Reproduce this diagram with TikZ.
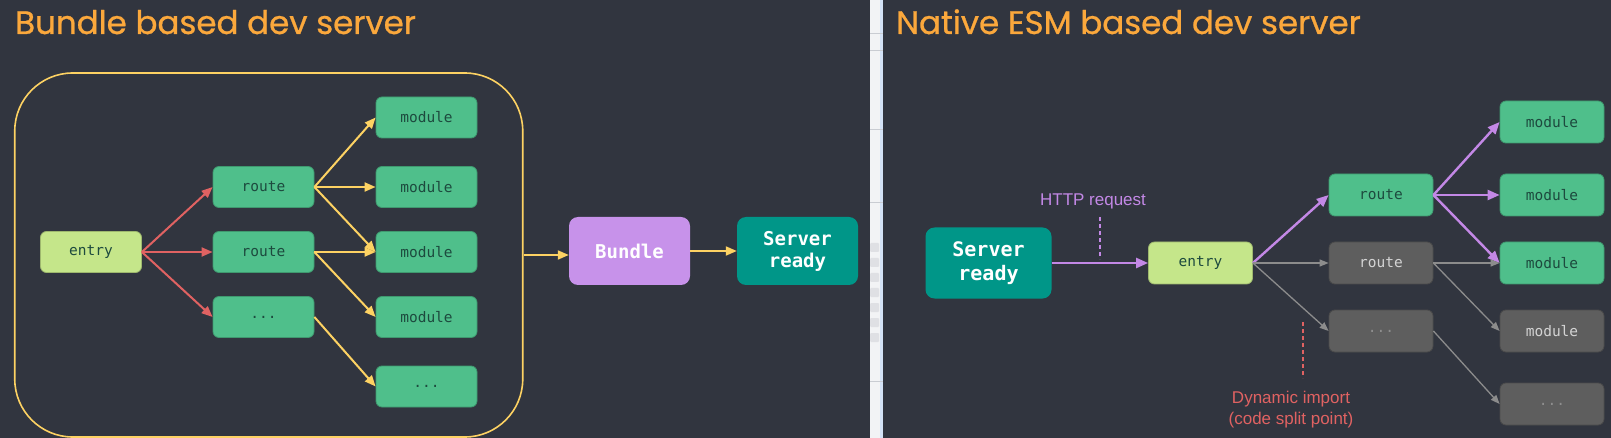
\documentclass[tikz,border=0pt]{standalone}
\usepackage{fontspec}
\setmainfont{Liberation Sans}
\setmonofont{DejaVu Sans Mono}
\newfontfamily\headfont[FakeBold=0.8]{Poppins}
\usepackage{tikz}
\usetikzlibrary{arrows.meta}

\definecolor{bgdark}{HTML}{31353F}
\definecolor{headorange}{HTML}{FBA83C}
\definecolor{boxgreen}{HTML}{4FBF8B}
\definecolor{greentext}{HTML}{1D4A3E}
\definecolor{entrylime}{HTML}{C5E68A}
\definecolor{boxgray}{HTML}{5E5E5E}
\definecolor{graytext}{HTML}{D4D4D4}
\definecolor{dimtext}{HTML}{8E8E8E}
\definecolor{arrowred}{HTML}{E06262}
\definecolor{arrowyellow}{HTML}{FDD263}
\definecolor{bundlepurple}{HTML}{C792EA}
\definecolor{arrowpurple}{HTML}{C388E6}
\definecolor{serverteal}{HTML}{009688}
\definecolor{arrowgray}{HTML}{8C8C8C}
\definecolor{stripwhite}{HTML}{F2F3F5}
\definecolor{stripblue}{HTML}{D3E2F6}
\definecolor{stripline}{HTML}{C9CCD2}

\begin{document}
\begin{tikzpicture}[x=1pt,y=-1pt,
  modbox/.style={rounded corners=6pt, minimum width=101pt, minimum height=41pt,
    inner sep=0pt, line width=0.8pt, font=\ttfamily\fontsize{14.5}{16}\selectfont},
  greenbox/.style={modbox, fill=boxgreen, draw=boxgreen!80!black, text=greentext},
  entrybox/.style={modbox, fill=entrylime, draw=entrylime!80!black, text=greentext},
  graybox/.style={modbox, fill=boxgray, draw=boxgray!80!black, text=graytext},
  bigstep/.style={rounded corners=9pt, inner sep=0pt, align=center, text=white,
    font=\ttfamily\bfseries\fontsize{19}{22}\selectfont},
  heading/.style={anchor=base west, inner sep=0pt, text=headorange,
    font=\headfont\fontsize{32.5}{36}\selectfont},
  redarrow/.style={draw=arrowred, line width=2pt, -{Triangle[length=11pt,width=9pt]}},
  yellowarrow/.style={draw=arrowyellow, line width=2pt, -{Triangle[length=11pt,width=9pt]}},
  purplearrow/.style={draw=arrowpurple, line width=2.4pt, -{Triangle[length=12pt,width=10pt]}},
  grayarrow/.style={draw=arrowgray, line width=1.3pt, -{Triangle[length=9pt,width=7pt]}},
  note/.style={inner sep=0pt, align=center, font=\fontsize{17}{21}\selectfont}
]
  \useasboundingbox (0,0) rectangle (1611,438);
  \fill[bgdark] (0,0) rectangle (870,438);
  \fill[bgdark] (883,0) rectangle (1611,438);
  \fill[stripwhite] (870,0) rectangle (880,438);
  \fill[stripblue] (880,0) rectangle (883,438);
  \draw[stripline] (870,33) --(883,33);
  \draw[stripline] (870,50) --(883,50);
  \draw[stripline] (870,129) --(883,129);
  \draw[stripline] (870,202) --(883,202);
  \draw[stripline] (870,381) --(883,381);
  \fill[stripline!60, rounded corners=1pt] (870,243) rectangle (879,252);
  \fill[stripline!60, rounded corners=1pt] (870,258) rectangle (879,267);
  \fill[stripline!60, rounded corners=1pt] (870,273) rectangle (879,282);
  \fill[stripline!60, rounded corners=1pt] (870,288) rectangle (879,297);
  \fill[stripline!60, rounded corners=1pt] (870,303) rectangle (879,312);
  \fill[stripline!60, rounded corners=1pt] (870,318) rectangle (879,327);
  \fill[stripline!60, rounded corners=1pt] (870,333) rectangle (879,342);

  % bundle based
  \path (15,34) node[heading] (bundletitle) {Bundle based dev server};
  \path (268.75,255) node[draw=arrowyellow, line width=1.6pt, rounded corners=58pt,
    minimum width=508pt, minimum height=364pt] (bundlebox) {};

  \path (91,252) node[entrybox] (entryl) {entry};
  \path (263.5,187) node[greenbox] (routela) {route};
  \path (263.5,252) node[greenbox] (routelb) {route};
  \path (263.5,317) node[greenbox] (routelc) {...};
  \path (426.5,117.5) node[greenbox] (modla) {module};
  \path (426.5,187) node[greenbox] (modlb) {module};
  \path (426.5,252) node[greenbox] (modlc) {module};
  \path (426.5,317) node[greenbox] (modld) {module};
  \path (426.5,386.5) node[greenbox] (modle) {...};

  \draw[redarrow] (entryl.east) --(routela.west);
  \draw[redarrow] (entryl.east) --(routelb.west);
  \draw[redarrow] (entryl.east) --(routelc.west);
  \draw[yellowarrow] (routela.east) --(modla.west);
  \draw[yellowarrow] (routela.east) --(modlb.west);
  \draw[yellowarrow] (routela.east) --(modlc.west);
  \draw[yellowarrow] (routelb.east) --(modlc.west);
  \draw[yellowarrow] (routelb.east) --(modld.west);
  \draw[yellowarrow] (routelc.east) --(modle.west);

  \path (629.5,251) node[bigstep, fill=bundlepurple, minimum width=121pt,
    minimum height=68pt] (bundle) {Bundle};
  \path (797.5,251) node[bigstep, fill=serverteal, minimum width=121pt,
    minimum height=68pt] (serverl) {Server\\ready};
  \draw[yellowarrow] (bundlebox.east) --(bundle.west |- bundlebox.east);
  \draw[yellowarrow] (bundle.east) --(serverl.west);

  % native esm based
  \path (896,34) node[heading] (esmtitle) {Native ESM based dev server};

  \path (988.5,263) node[bigstep, fill=serverteal, minimum width=126pt,
    minimum height=71pt, font=\ttfamily\bfseries\fontsize{20}{24}\selectfont] (serverr) {Server\\ready};
  \path (1200.5,263) node[entrybox, minimum width=104pt, minimum height=42pt] (entryr) {entry};
  \path (1381,195) node[greenbox, minimum width=104pt, minimum height=42pt] (routera) {route};
  \path (1381,263) node[graybox, minimum width=104pt, minimum height=42pt] (routerb) {route};
  \path (1381,331) node[graybox, minimum width=104pt, minimum height=42pt, text=dimtext] (routerc) {...};
  \path (1552,122) node[greenbox, minimum width=104pt, minimum height=42pt] (modra) {module};
  \path (1552,195) node[greenbox, minimum width=104pt, minimum height=42pt] (modrb) {module};
  \path (1552,263) node[greenbox, minimum width=104pt, minimum height=42pt] (modrc) {module};
  \path (1552,331) node[graybox, minimum width=104pt, minimum height=42pt] (modrd) {module};
  \path (1552,404) node[graybox, minimum width=104pt, minimum height=42pt, text=dimtext] (modre) {...};

  \draw[purplearrow] (serverr.east) --(entryr.west);
  \draw[purplearrow] (entryr.east) --(routera.west);
  \draw[grayarrow] (entryr.east) --(routerb.west);
  \draw[grayarrow] (entryr.east) --(routerc.west);
  \draw[purplearrow] (routera.east) --(modra.west);
  \draw[purplearrow] (routera.east) --(modrb.west);
  \draw[purplearrow] (routera.east) --(modrc.west);
  \draw[grayarrow] (routerb.east) --(modrc.west);
  \draw[grayarrow] (routerb.east) --(modrd.west);
  \draw[grayarrow] (routerc.east) --(modre.west);

  \path (1093,201) node[note, text=arrowpurple] (http) {HTTP request};
  \coordinate (httptop) at (1100,217);
  \coordinate (httpbot) at (1100,259);
  \draw[arrowpurple, line width=1.2pt, dash pattern=on 4pt off 3pt] (httptop) --(httpbot);

  \path (1291,410) node[note, text=arrowred] (dynamic) {Dynamic import\\(code split point)};
  \coordinate (dyntop) at (1303,322);
  \coordinate (dynbot) at (1303,378);
  \draw[arrowred, line width=1.2pt, dash pattern=on 4pt off 3pt] (dyntop) --(dynbot);
\end{tikzpicture}
\end{document}
